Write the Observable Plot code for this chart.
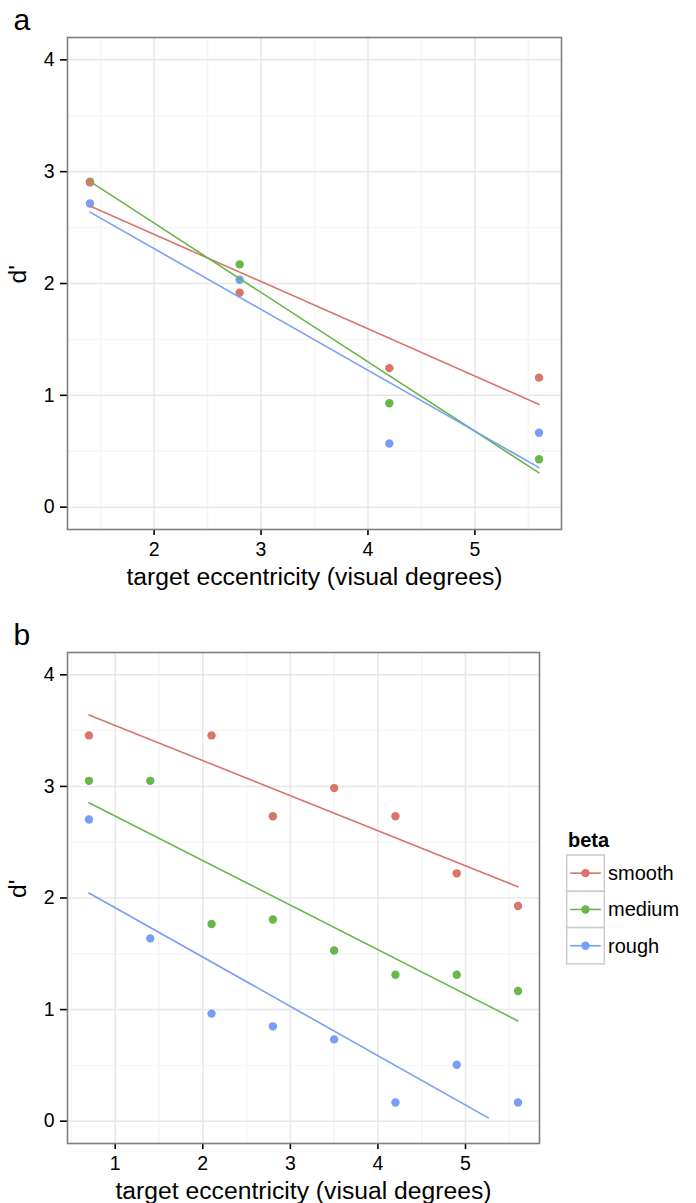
<!DOCTYPE html>
<html>
<head>
<meta charset="utf-8">
<script src="https://cdn.jsdelivr.net/npm/d3@7"></script>
<script src="https://cdn.jsdelivr.net/npm/@observablehq/plot@0.6"></script>
<style>
  html, body { margin: 0; padding: 0; background: #fff; }
  body { width: 696px; height: 1203px; position: relative; overflow: hidden; font-family: "Liberation Sans", Arial, Helvetica, sans-serif; }
  #panelA { position: absolute; left: 0; top: 0; }
  #panelB { position: absolute; left: 0; top: 600px; }
  #legend { position: absolute; left: 550px; top: 820px; }
</style>
</head>
<body>
<div id="panelA"></div>
<div id="panelB"></div>
<div id="legend"></div>
<script>
// ---------- data ----------
const categories = ["smooth", "medium", "rough"];
const colors = ["#D9756B", "#67B74A", "#789EF7"];

// panel a
const xA = [1.4, 2.8, 4.2, 5.6];
const smoothA = [2.904, 1.918, 1.243, 1.158];
const mediumA = [2.910, 2.171, 0.929, 0.428];
const roughA  = [2.716, 2.034, 0.569, 0.665];

// panel b
const xB = [0.7, 1.4, 2.1, 2.8, 3.5, 4.2, 4.9, 5.6];
const smoothB = [3.457, null, 3.457, 2.733, 2.985, 2.733, 2.221, 1.928];
const mediumB = [3.050, 3.050, 1.767, 1.808, 1.529, 1.312, 1.312, 1.167];
const roughB  = [2.703, 1.638, 0.964, 0.850, 0.733, 0.168, 0.506, 0.168];

// panel b fitted lines (model fit, endpoints)
const fitSmoothBx = [0.7, 5.6];  const fitSmoothBy = [3.64, 2.10];
const fitMediumBx = [0.7, 5.6];  const fitMediumBy = [2.854, 0.898];
const fitRoughBx  = [0.7, 5.26]; const fitRoughBy  = [2.045, 0.03];

// axes
const yTicks = [0, 1, 2, 3, 4];
const yMinor = [0.5, 1.5, 2.5, 3.5];
const xTicksA = [2, 3, 4, 5];
const xMinorA = [1.5, 2.5, 3.5, 4.5, 5.5];
const xTicksB = [1, 2, 3, 4, 5];
const xMinorB = [0.5, 1.5, 2.5, 3.5, 4.5, 5.5];
const xTitle = "target eccentricity (visual degrees)";
const yTitle = "d'";
const legendTitle = "beta";

// ---------- build tables ----------
function pts(xs, ys, beta) {
  return xs.map((x, i) => ({x, y: ys[i], beta})).filter(d => d.y != null);
}
const dataA = [
  ...pts(xA, mediumA, "medium"),
  ...pts(xA, roughA, "rough"),
  ...pts(xA, smoothA, "smooth")
];
const dataB = [
  ...pts(xB, mediumB, "medium"),
  ...pts(xB, roughB, "rough"),
  ...pts(xB, smoothB, "smooth")
];
const fitsB = [
  ...pts(fitSmoothBx, fitSmoothBy, "smooth"),
  ...pts(fitMediumBx, fitMediumBy, "medium"),
  ...pts(fitRoughBx, fitRoughBy, "rough")
];
const linesAOrder = [
  ...pts(xA, smoothA, "smooth"),
  ...pts(xA, mediumA, "medium"),
  ...pts(xA, roughA, "rough")
];

const FONT = "'Liberation Sans', Arial, Helvetica, sans-serif";
const colorScale = {domain: categories, range: colors};
const fmt = d3.format("d");

function common(xTicks, xMinor, panelLabel, labelDy) {
  return [
    Plot.ruleX(xMinor, {stroke: "#f6f6f6", strokeWidth: 1.5}),
    Plot.ruleY(yMinor, {stroke: "#f6f6f6", strokeWidth: 1.5}),
    Plot.ruleX(xTicks, {stroke: "#e8e8e8", strokeWidth: 1.5}),
    Plot.ruleY(yTicks, {stroke: "#e8e8e8", strokeWidth: 1.5}),
    Plot.axisX(xTicks, {tickSize: 6, tickPadding: 7, strokeWidth: 1.6, fontSize: 19.5, label: null, fill: "#000", tickFormat: fmt}),
    Plot.axisY(yTicks, {tickSize: 7, tickPadding: 6, strokeWidth: 1.6, fontSize: 19.5, label: null, fill: "#000", tickFormat: fmt}),
    Plot.text([xTitle], {frameAnchor: "bottom", dy: 55, fontSize: 24.7, fill: "#000", text: d => d}),
    Plot.text([yTitle], {frameAnchor: "left", dx: -49, rotate: -90, fontSize: 24.7, fill: "#000", text: d => d}),
    Plot.text([panelLabel], {frameAnchor: "top-left", dx: -54, dy: labelDy, textAnchor: "start", fontSize: 30, fill: "#000", text: d => d})
  ];
}

const plotA = Plot.plot({
  width: 696, height: 600,
  marginLeft: 67, marginRight: 135, marginTop: 37, marginBottom: 71,
  style: {fontFamily: FONT, fontSize: "19px", color: "#000", background: "transparent", overflow: "visible"},
  x: {domain: [1.19, 5.81], label: null},
  y: {domain: [-0.2, 4.2], label: null},
  color: colorScale,
  marks: [
    ...common(xTicksA, xMinorA, "a", -29),
    Plot.dot(dataA, {x: "x", y: "y", fill: "beta", r: 4.2, stroke: "none"}),
    Plot.linearRegressionY(linesAOrder, {x: "x", y: "y", stroke: "beta", z: "beta", ci: 0, strokeWidth: 1.6}),
    Plot.frame({stroke: "#7f7f7f", strokeWidth: 1.6})
  ]
});
document.getElementById("panelA").appendChild(plotA);

const plotB = Plot.plot({
  width: 696, height: 603,
  marginLeft: 67, marginRight: 157, marginTop: 52, marginBottom: 60,
  style: {fontFamily: FONT, fontSize: "19px", color: "#000", background: "transparent", overflow: "visible"},
  x: {domain: [0.455, 5.845], label: null},
  y: {domain: [-0.2, 4.2], label: null},
  color: colorScale,
  marks: [
    ...common(xTicksB, xMinorB, "b", -29),
    Plot.dot(dataB, {x: "x", y: "y", fill: "beta", r: 4.2, stroke: "none"}),
    Plot.line(fitsB, {x: "x", y: "y", stroke: "beta", z: "beta", strokeWidth: 1.6}),
    Plot.frame({stroke: "#7f7f7f", strokeWidth: 1.6})
  ]
});
document.getElementById("panelB").appendChild(plotB);

// ---------- legend ----------
const lg = d3.select("#legend").append("svg")
  .attr("width", 146).attr("height", 160)
  .style("font-family", FONT);
const ox = 550, oy = 820;
lg.append("text").attr("x", 568 - ox).attr("y", 847 - oy)
  .attr("font-size", 20).attr("font-weight", "bold").attr("fill", "#000").text(legendTitle);
const boxTop = [855, 891.3, 927.6];
categories.forEach((c, i) => {
  const y0 = boxTop[i] - oy, h = 36.3, x0 = 566.7 - ox, w = 37.6;
  lg.append("rect").attr("x", x0).attr("y", y0).attr("width", w).attr("height", h)
    .attr("fill", "#fff").attr("stroke", "#cccccc").attr("stroke-width", 1.5);
  const cy = y0 + h / 2;
  lg.append("line").attr("x1", x0 + 3.5).attr("x2", x0 + w - 3.5).attr("y1", cy).attr("y2", cy)
    .attr("stroke", colors[i]).attr("stroke-width", 1.6);
  lg.append("circle").attr("cx", x0 + w / 2).attr("cy", cy).attr("r", 4.2).attr("fill", colors[i]);
  lg.append("text").attr("x", 608 - ox).attr("y", cy).attr("dy", "0.35em")
    .attr("font-size", 20).attr("fill", "#000").text(c);
});
</script>
</body>
</html>
